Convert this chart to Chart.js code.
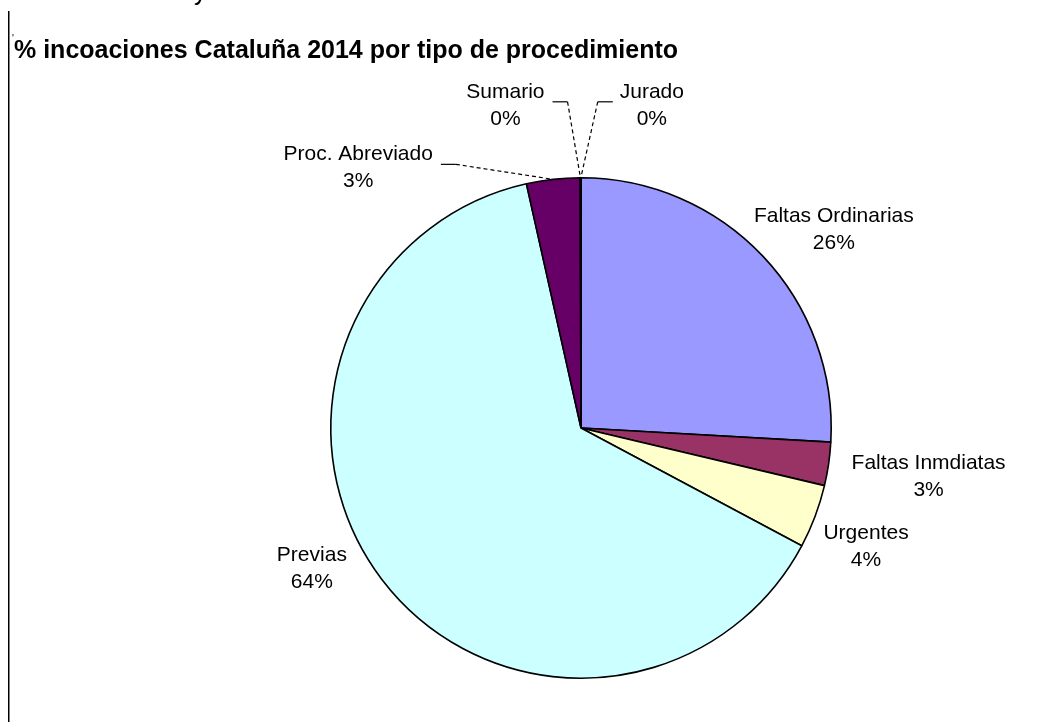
<!DOCTYPE html>
<html>
<head>
<meta charset="utf-8">
<script src="https://cdn.jsdelivr.net/npm/chart.js@4.4.1/dist/chart.umd.min.js"></script>
<style>
  html, body { margin: 0; padding: 0; background: #ffffff; width: 1047px; height: 722px; overflow: hidden; }
  #wrap { position: absolute; left: 0; top: 0; width: 1047px; height: 722px; }
</style>
</head>
<body>
<div id="wrap"><canvas id="c" width="1047" height="722"></canvas></div>
<script>
// ---- data ----
const titleText = "% incoaciones Cataluña 2014 por tipo de procedimiento";
const categories = ["Faltas Ordinarias", "Faltas Inmdiatas", "Urgentes", "Previas", "Proc. Abreviado", "Sumario", "Jurado"];
const values = [25.9, 2.8, 4.1, 63.7, 3.45, 0.03, 0.02];
const sliceColors = ["#9999FF", "#993366", "#FFFFCC", "#CCFFFF", "#660066", "#FF8080", "#0066CC"];

// label placement relative to each slice's outer mid point (dx: text centre, dy: first baseline)
const labelPlacement = [
  { dx: 71,   dy: -34 },
  { dx: 100,  dy: 5 },
  { dx: 51,   dy: 23 },
  { dx: -70,  dy: -18 },
  { dx: -195, dy: -19, leader: "left" },
  { dx: -75,  dy: -80, leader: "left" },
  { dx: 71,   dy: -80, leader: "right" }
];

const FONT = '"Liberation Sans", Arial, Helvetica, sans-serif';

const decorations = {
  id: "decorations",
  afterDraw(chart) {
    const ctx = chart.ctx;
    ctx.save();
    // left frame line
    ctx.fillStyle = "#000";
    ctx.fillRect(8, 11, 1.5, 711);
    // cut-off text at top
    ctx.font = "25px " + FONT;
    ctx.textAlign = "left";
    ctx.textBaseline = "alphabetic";
    ctx.fillText("y", 194, 0);
    // tiny tick before title
    ctx.font = "10px " + FONT;
    ctx.fillText("'", 12, 42);
    // title
    ctx.font = "bold 25px " + FONT;
    ctx.fillText(titleText, 14, 58);
    ctx.restore();
  }
};

const pieLabels = {
  id: "pieLabels",
  afterDatasetsDraw(chart) {
    const ctx = chart.ctx;
    const meta = chart.getDatasetMeta(0);
    const total = values.reduce((a, b) => a + b, 0);
    ctx.save();
    meta.data.forEach((arc, i) => {
      const p = arc.getProps(["x", "y", "startAngle", "endAngle", "outerRadius"], true);
      const mid = (p.startAngle + p.endAngle) / 2;
      const ax = p.x + Math.cos(mid) * p.outerRadius;
      const ay = p.y + Math.sin(mid) * p.outerRadius;
      const o = labelPlacement[i];
      const cx = ax + o.dx;
      const by = ay + o.dy;
      const pct = Math.round(values[i] / total * 100) + "%";
      ctx.font = "21px " + FONT;
      ctx.fillStyle = "#000";
      ctx.textAlign = "center";
      ctx.textBaseline = "alphabetic";
      ctx.fillText(categories[i], cx, by);
      ctx.fillText(pct, cx, by + 27);
      if (o.leader) {
        const w = ctx.measureText(categories[i]).width;
        let hx1, hx2, start;
        if (o.leader === "left") { hx1 = cx + w / 2 + 8; hx2 = hx1 + 15; start = hx2; }
        else { hx2 = cx - w / 2 - 7; hx1 = hx2 - 15; start = hx1; }
        const ly = by + 4;
        ctx.strokeStyle = "#000";
        ctx.lineWidth = 1.2;
        ctx.setLineDash([]);
        ctx.beginPath(); ctx.moveTo(hx1, ly); ctx.lineTo(hx2, ly); ctx.stroke();
        ctx.setLineDash([4, 3]);
        ctx.beginPath(); ctx.moveTo(start, ly); ctx.lineTo(ax, ay); ctx.stroke();
        ctx.setLineDash([]);
      }
    });
    ctx.restore();
  }
};

new Chart(document.getElementById("c"), {
  type: "pie",
  data: {
    labels: categories,
    datasets: [{
      data: values,
      backgroundColor: sliceColors,
      borderColor: "#000000",
      borderWidth: 1.6
    }]
  },
  options: {
    responsive: false,
    animation: false,
    layout: { padding: { top: 177, bottom: 43, left: 330, right: 215 } },
    plugins: {
      legend: { display: false },
      tooltip: { enabled: false },
      title: { display: false }
    }
  },
  plugins: [pieLabels, decorations]
});
</script>
</body>
</html>
